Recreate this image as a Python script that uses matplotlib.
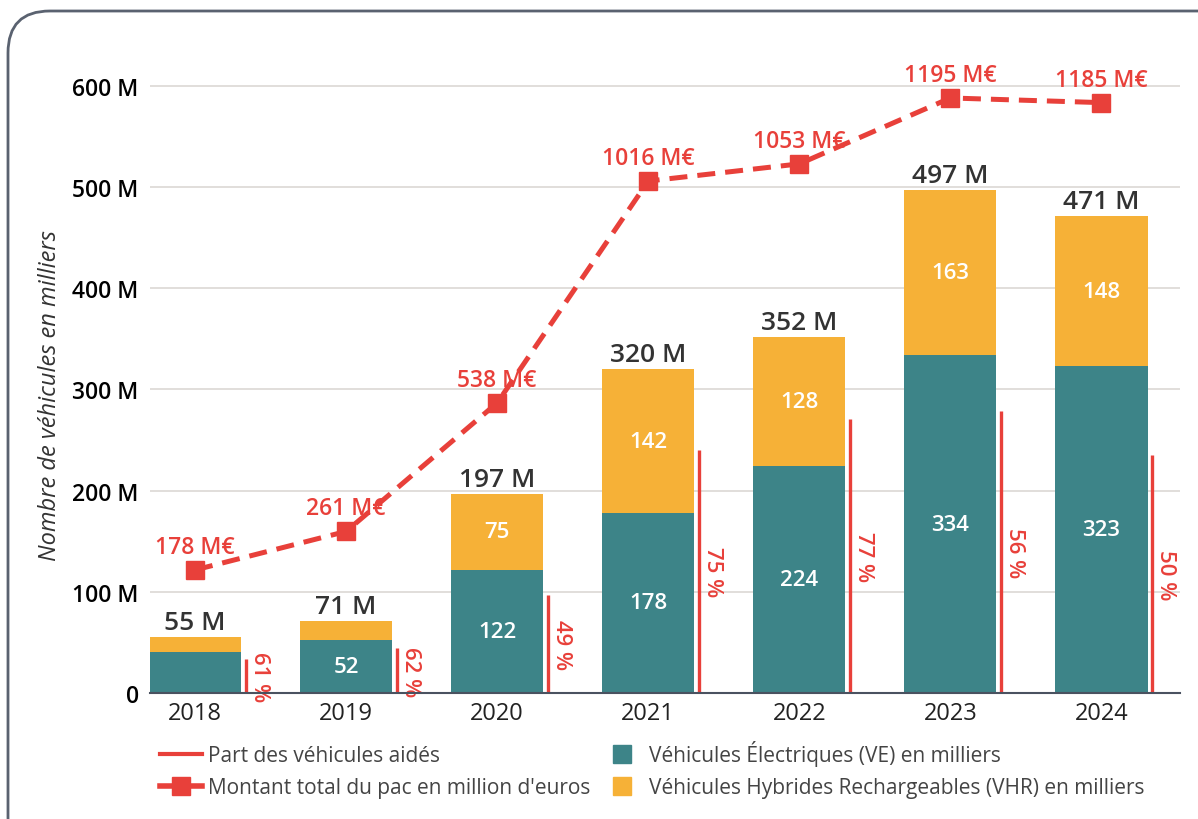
import numpy as np
import matplotlib
matplotlib.use("Agg")
import matplotlib.pyplot as plt
from matplotlib.patches import FancyBboxPatch
from matplotlib.lines import Line2D

plt.rcParams["font.family"] = ["Open Sans", "DejaVu Sans"]

# ── Data ───────────────────────────────────────────────────────────────
years      = [2018, 2019, 2020, 2021, 2022, 2023, 2024]
ve         = [40, 52, 122, 178, 224, 334, 323]
vhr        = [15, 19, 75, 142, 128, 163, 148]
totals     = [55, 71, 197, 320, 352, 497, 471]
part_aides = [61, 62, 49, 75, 77, 56, 50]
montant    = [178, 261, 538, 1016, 1053, 1195, 1185]

C_VE   = "#3d8488"
C_VHR  = "#f6b137"
C_RED  = "#e8403a"
C_TXT  = "#333333"

x = np.array(years, dtype=float)
ve_a, vhr_a, tot_a = np.array(ve), np.array(vhr), np.array(totals)
aides_h = np.array(part_aides) * tot_a / 100.0

fig = plt.figure(figsize=(11.98, 8.2), dpi=100)
ax = fig.add_axes([0.125, 0.1537, 0.86, 0.802])

# rounded frame around the figure
frame = FancyBboxPatch((8 / 1198, -0.05), 1.2, 1.0 - 12 / 820 + 0.05,
                       boxstyle="round,pad=0,rounding_size=0.035",
                       transform=fig.transFigure, fill=False,
                       edgecolor="#5a6270", lw=2, clip_on=False,
                       mutation_aspect=1198 / 820)
fig.patches.append(frame)

w = 0.61
ax.bar(x, ve_a, width=w, color=C_VE, zorder=2)
ax.bar(x, vhr_a, width=w, bottom=ve_a, color=C_VHR, zorder=2)

for xi, v, h, t in zip(x, ve_a, vhr_a, tot_a):
    if v >= 45:
        ax.text(xi, v / 2, f"{v}", ha="center", va="center", color="white",
                fontsize=16, fontweight="semibold", zorder=3)
    if h >= 45:
        ax.text(xi, v + h / 2, f"{h}", ha="center", va="center", color="white",
                fontsize=16, fontweight="semibold", zorder=3)
    ax.text(xi, t + 2, f"{t} M", ha="center", va="bottom", color=C_TXT,
            fontsize=19, fontweight="semibold", zorder=3)

# part des véhicules aidés
for xi, hgt, p in zip(x, aides_h, part_aides):
    ax.plot([xi + 0.335, xi + 0.335], [0, hgt], color=C_RED, lw=2.4,
            solid_capstyle="butt", zorder=3)
    ax.text(xi + 0.425, hgt / 2, f"{p} %", rotation=270, ha="center",
            va="center", color=C_RED, fontsize=16, fontweight="semibold")

ax.set_xlim(2017.7, 2024.52)
ax.set_ylim(0, 650)
ax.set_yticks(range(0, 700, 100))
ax.set_yticklabels(["0"] + [f"{v} M" for v in range(100, 700, 100)])
ax.set_xticks(x)
ax.set_xticklabels([str(y) for y in years])
ax.tick_params(axis="both", length=0, colors="black")
ax.tick_params(axis="y", pad=8, labelsize=16.5)
ax.tick_params(axis="x", pad=6, labelsize=17, labelcolor="#222222")
for lab in ax.get_yticklabels():
    lab.set_fontweight("semibold")
ax.grid(axis="y", color="#dcd8d4", lw=1.2, zorder=0)
ax.set_axisbelow(True)
for s in ["top", "right", "left"]:
    ax.spines[s].set_visible(False)
ax.spines["bottom"].set_color("#4a5260")
ax.spines["bottom"].set_linewidth(1.5)
ax.spines["bottom"].set_zorder(4)
ax.set_ylabel("Nombre de véhicules en milliers", fontsize=17,
              fontstyle="italic", color=C_TXT)
ax.yaxis.set_label_coords(-0.085, 295 / 650)

# montant total (secondary scale)
ax2 = ax.twinx()
ax2.set_ylim(-87.1, 1330)
ax2.axis("off")
ax2.plot(x, montant, color=C_RED, lw=3.6, ls=(0, (3.6, 2.0)),
         marker="s", ms=13, zorder=5)
for xi, m in zip(x, montant):
    ax2.annotate(f"{m} M€", (xi, m), xytext=(0, 8), textcoords="offset points",
                 ha="center", va="bottom", color=C_RED, fontsize=16.5,
                 fontweight="semibold")

handles = [
    Line2D([], [], color=C_RED, lw=3),
    Line2D([], [], color=C_RED, lw=4, marker="s", ms=13),
    Line2D([], [], ls="none", marker="s", ms=13, color=C_VE),
    Line2D([], [], ls="none", marker="s", ms=13, color=C_VHR),
]
labels = [
    "Part des véhicules aidés",
    "Montant total du pac en million d'euros",
    "Véhicules Électriques (VE) en milliers",
    "Véhicules Hybrides Rechargeables (VHR) en milliers",
]
fig.legend(handles, labels, ncol=2, loc="upper left",
           bbox_to_anchor=(160 / 1198, 1 - 741 / 820), frameon=False,
           fontsize=15, labelcolor="#444444", columnspacing=0.5,
           handlelength=2.0, handletextpad=0.3, labelspacing=0.52,
           borderpad=0, borderaxespad=0)

fig.savefig("out.png", dpi=100)
